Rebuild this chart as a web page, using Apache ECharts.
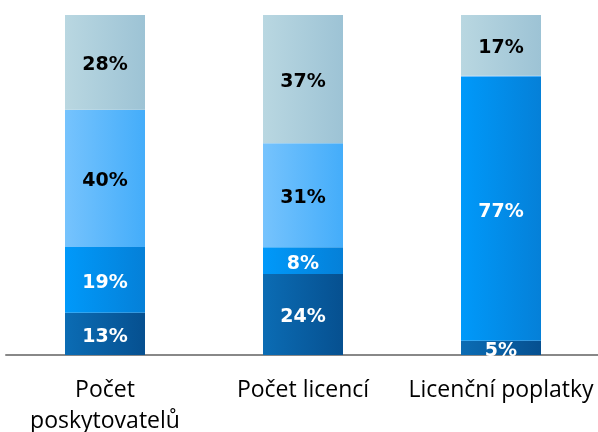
<!DOCTYPE html>
<html>
<head>
<meta charset="utf-8">
<script src="https://cdn.jsdelivr.net/npm/echarts@6/dist/echarts.min.js"></script>
<style>html,body{margin:0;padding:0;background:#fff;}#chart{width:598px;height:432px;}</style>
</head>
<body>
<div id="chart"></div>
<script>
const categories = ['Počet\nposkytovatelů', 'Počet licencí', 'Licenční poplatky'];
// segment heights (percent of total)
const darkValues   = [12.4, 23.8, 4.2];
const brightValues = [19.4, 7.9, 77.6];
const lightValues  = [40.3, 30.6, 0.3];
const grayValues   = [27.9, 37.7, 17.9];
// printed labels
const darkLabels   = ['13%', '24%', '5%'];
const brightLabels = ['19%', '8%', '77%'];
const lightLabels  = ['40%', '31%', ''];
const grayLabels   = ['28%', '37%', '17%'];

function grad(a, b) {
  return new echarts.graphic.LinearGradient(0, 0, 1, 0, [{offset: 0, color: a}, {offset: 1, color: b}]);
}
function mk(name, values, labels, c1, c2, textColor) {
  return {
    name: name, type: 'bar', stack: 'total', barWidth: 80,
    data: values,
    itemStyle: {color: grad(c1, c2)},
    label: {
      show: true, position: 'inside', color: textColor, offset: [0, 3],
      fontFamily: 'DejaVu Sans', fontWeight: 'bold', fontSize: 19,
      formatter: p => labels[p.dataIndex]
    },
    emphasis: {disabled: true}
  };
}
const chart = echarts.init(document.getElementById('chart'), null, {renderer: 'canvas'});
chart.setOption({
  animation: false,
  grid: {left: 6, right: -2, top: 15, bottom: 77, containLabel: false, outerBoundsMode: 'none'},
  xAxis: {
    type: 'category', data: categories,
    axisLine: {lineStyle: {color: '#888', width: 2}},
    axisTick: {show: false},
    axisLabel: {color: '#000', fontFamily: 'Open Sans', fontSize: 23, lineHeight: 31, margin: 20, interval: 0}
  },
  yAxis: {type: 'value', min: 0, max: 100, show: false, splitLine: {show: false}},
  series: [
    mk('a', darkValues, darkLabels, '#0b6cb4', '#065090', '#fff'),
    mk('b', brightValues, brightLabels, '#0099fa', '#0580d8', '#fff'),
    mk('c', lightValues, lightLabels, '#76c3fd', '#44adfa', '#000'),
    mk('d', grayValues, grayLabels, '#b9d7e1', '#9dc3d5', '#000')
  ]
});
</script>
</body>
</html>
